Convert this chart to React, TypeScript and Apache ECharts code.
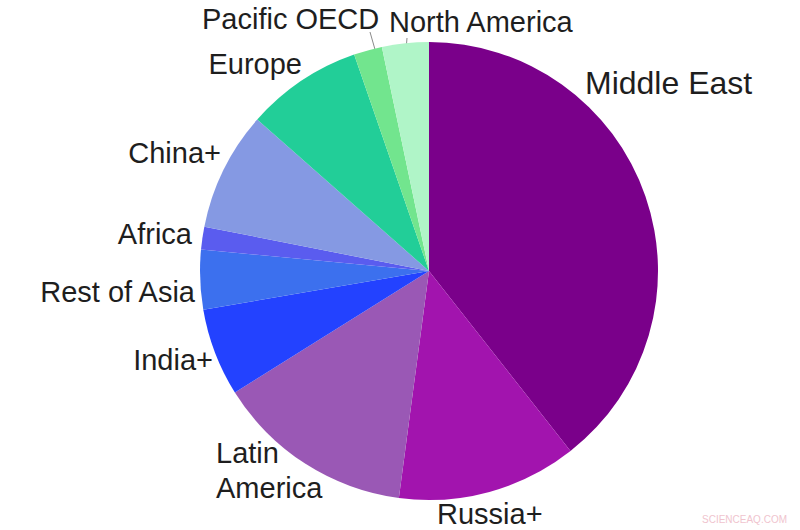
import React, { useEffect, useRef } from "react";
import * as echarts from "echarts";

const regions = [
  "Middle East",
  "Russia+",
  "Latin\nAmerica",
  "India+",
  "Rest of Asia",
  "Africa",
  "China+",
  "Europe",
  "Pacific OECD",
  "North America",
];
const shares = [39.4, 12.7, 14.0, 6.2, 4.2, 1.6, 8.4, 8.2, 2.0, 3.3];
const colors = [
  "#7a008a",
  "#a214ae",
  "#9a58b5",
  "#2342ff",
  "#3c70ee",
  "#5a5cef",
  "#8599e3",
  "#22ce98",
  "#72e58e",
  "#b0f5c8",
];

// label placement (pixels) per slice
const labelPos: { x: number; y: number; align: string; size: number }[] = [
  { x: 585, y: 83, align: "left", size: 32 },
  { x: 437, y: 514, align: "left", size: 29 },
  { x: 216, y: 470, align: "left", size: 29 },
  { x: 213, y: 360, align: "right", size: 29 },
  { x: 195, y: 292, align: "right", size: 29 },
  { x: 192, y: 234, align: "right", size: 29 },
  { x: 221, y: 153, align: "right", size: 29 },
  { x: 302, y: 64, align: "right", size: 29 },
  { x: 202, y: 19, align: "left", size: 29 },
  { x: 389, y: 22, align: "left", size: 29 },
];

export default function App() {
  const ref = useRef<HTMLDivElement>(null);
  useEffect(() => {
    if (!ref.current) return;
    const chart = echarts.init(ref.current, null, { renderer: "svg" });
    chart.setOption({
      animation: false,
      backgroundColor: "#ffffff",
      graphic: [
        {
          type: "line",
          shape: { x1: 370, y1: 32, x2: 380, y2: 67 },
          style: { stroke: "#8a8a8a", lineWidth: 1 },
        },
        {
          type: "line",
          shape: { x1: 407, y1: 38, x2: 405, y2: 62 },
          style: { stroke: "#8a8a8a", lineWidth: 1 },
        },
        {
          type: "text",
          left: 702,
          top: 514,
          style: {
            text: "SCIENCEAQ.COM",
            fill: "#f0c4ce",
            font: "10px 'Liberation Sans', Arial, sans-serif",
          },
        },
      ],
      series: [
        {
          type: "pie",
          center: [429, 271],
          radius: [0, 229],
          startAngle: 90,
          clockwise: true,
          avoidLabelOverlap: false,
          itemStyle: { borderWidth: 0 },
          label: {
            show: true,
            position: "outside",
            color: "#1e1e1e",
            fontFamily: "'Liberation Sans', Arial, sans-serif",
            fontSize: 29,
            lineHeight: 35,
            formatter: "{b}",
          },
          labelLine: { show: false },
          emphasis: { disabled: true },
          labelLayout: (params: any) => {
            const p = labelPos[params.dataIndex];
            return {
              x: p.x,
              y: p.y,
              align: p.align,
              verticalAlign: "middle",
              fontSize: p.size,
              hideOverlap: false,
            };
          },
          data: regions.map((name, i) => ({
            name,
            value: shares[i],
            itemStyle: { color: colors[i] },
          })),
        },
      ],
    });
    return () => chart.dispose();
  }, []);
  return (
    <div
      ref={ref}
      style={{ position: "fixed", left: 0, top: 0, width: 800, height: 530 }}
    />
  );
}
